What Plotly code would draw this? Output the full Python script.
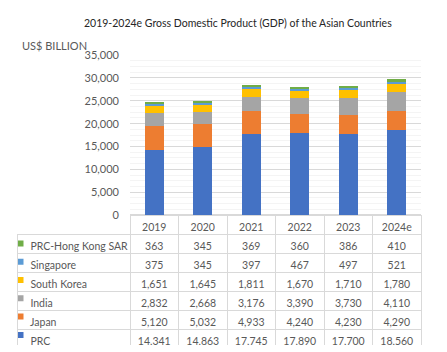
import plotly.graph_objects as go

years = ["2019", "2020", "2021", "2022", "2023", "2024e"]
prc = [14341, 14863, 17745, 17890, 17700, 18560]
japan = [5120, 5032, 4933, 4240, 4230, 4290]
india = [2832, 2668, 3176, 3390, 3730, 4110]
korea = [1651, 1645, 1811, 1670, 1710, 1780]
singapore = [375, 345, 397, 467, 497, 521]
hongkong = [363, 345, 369, 360, 386, 410]

series = [
    ("PRC", prc, "#4472C4"),
    ("Japan", japan, "#ED7D31"),
    ("India", india, "#A5A5A5"),
    ("South Korea", korea, "#FFC000"),
    ("Singapore", singapore, "#5B9BD5"),
    ("PRC-Hong Kong SAR", hongkong, "#70AD47"),
]

W, H = 447, 352
FONT = "Lato"
GRAY = "#595959"
LINE = "#d9d9d9"
CLEAR = "rgba(0,0,0,0)"

fig = go.Figure()
for name, vals, col in series:
    fig.add_trace(go.Bar(x=years, y=vals, name=name, marker_color=col,
                         marker_line_width=0, showlegend=False))

# data table (rows top-to-bottom: reverse of stacking order)
rows = list(reversed(series))
NB = "\u00a0"
label_col = [NB * 2 + n.replace(" ", NB) for n, _, _ in rows]
cols = [label_col]
for i in range(len(years)):
    cols.append([f"{r[1][i]:,}" for r in rows])

x0, x1 = 17 / W, 421 / W
plot_x0 = 130 / W
HDR = 19
ROW = 19
tbl_top = 216
body_top = tbl_top + HDR
body_bot = body_top + ROW * 6
key_shift = 1  # legend keys sit at the text's optical centre

fig.add_trace(go.Table(
    domain=dict(x=[x0, x1], y=[0, (H - tbl_top) / H]),
    columnwidth=[113] + [48.5] * 6,
    header=dict(values=[""] + years, height=HDR,
                fill_color=CLEAR,
                line=dict(color=[CLEAR] + [LINE] * 6, width=1),
                font=dict(family=FONT, size=10.5, color=GRAY),
                align="center"),
    cells=dict(values=cols, height=ROW,
               fill_color=CLEAR,
               line=dict(color=LINE, width=1),
               font=dict(family=FONT, size=10.5, color=GRAY),
               align=["left"] + ["center"] * 6),
))

# legend keys in the table's label column
fig.add_trace(go.Scatter(
    x=[3.5] * len(rows), y=[n for n, _, _ in rows],
    mode="markers", xaxis="x2", yaxis="y2", showlegend=False,
    marker=dict(symbol="square", size=6, color=[c for _, _, c in rows]),
    hoverinfo="skip",
))

fig.update_layout(
    width=W, height=H,
    barmode="stack", bargap=0.6,
    margin=dict(l=0, r=0, t=0, b=0),
    paper_bgcolor="white", plot_bgcolor="white",
    font=dict(family=FONT, size=11, color=GRAY),
    xaxis=dict(domain=[plot_x0, x1], showticklabels=False, showgrid=False,
               showline=False, zeroline=False, fixedrange=True),
    yaxis=dict(domain=[(H - tbl_top) / H, (H - 50) / H], range=[0, 35000], dtick=5000,
               tickformat=",d", showgrid=True, gridcolor=LINE, gridwidth=1,
               zeroline=True, zerolinecolor=LINE, showline=False,
               ticklabelstandoff=10,
               tickfont=dict(family=FONT, size=11, color=GRAY),
               minor=dict(dtick=1250, showgrid=True, gridcolor="#f4f4f4")),
    xaxis2=dict(domain=[x0, plot_x0], range=[0, 113], visible=False,
                anchor="y2", fixedrange=True),
    yaxis2=dict(domain=[(H - body_bot - key_shift) / H, (H - body_top - key_shift) / H],
                range=[len(rows) - 0.5, -0.5], visible=False,
                anchor="x2", type="category", fixedrange=True,
                categoryorder="array", categoryarray=[n for n, _, _ in rows]),
    annotations=[
        dict(text="2019-2024e Gross Domestic Product (GDP) of the Asian Countries",
             x=237.5 / W, y=1 - 17 / H, xref="paper", yref="paper",
             showarrow=False, xanchor="center", yanchor="middle",
             font=dict(family=FONT, size=10.5, color="#262626")),
        dict(text="US$ BILLION", x=20 / W, y=1 - 40 / H, xref="paper", yref="paper",
             showarrow=False, xanchor="left", yanchor="middle",
             font=dict(family=FONT, size=11, color=GRAY)),
    ],
)

fig.write_html("out.html")
